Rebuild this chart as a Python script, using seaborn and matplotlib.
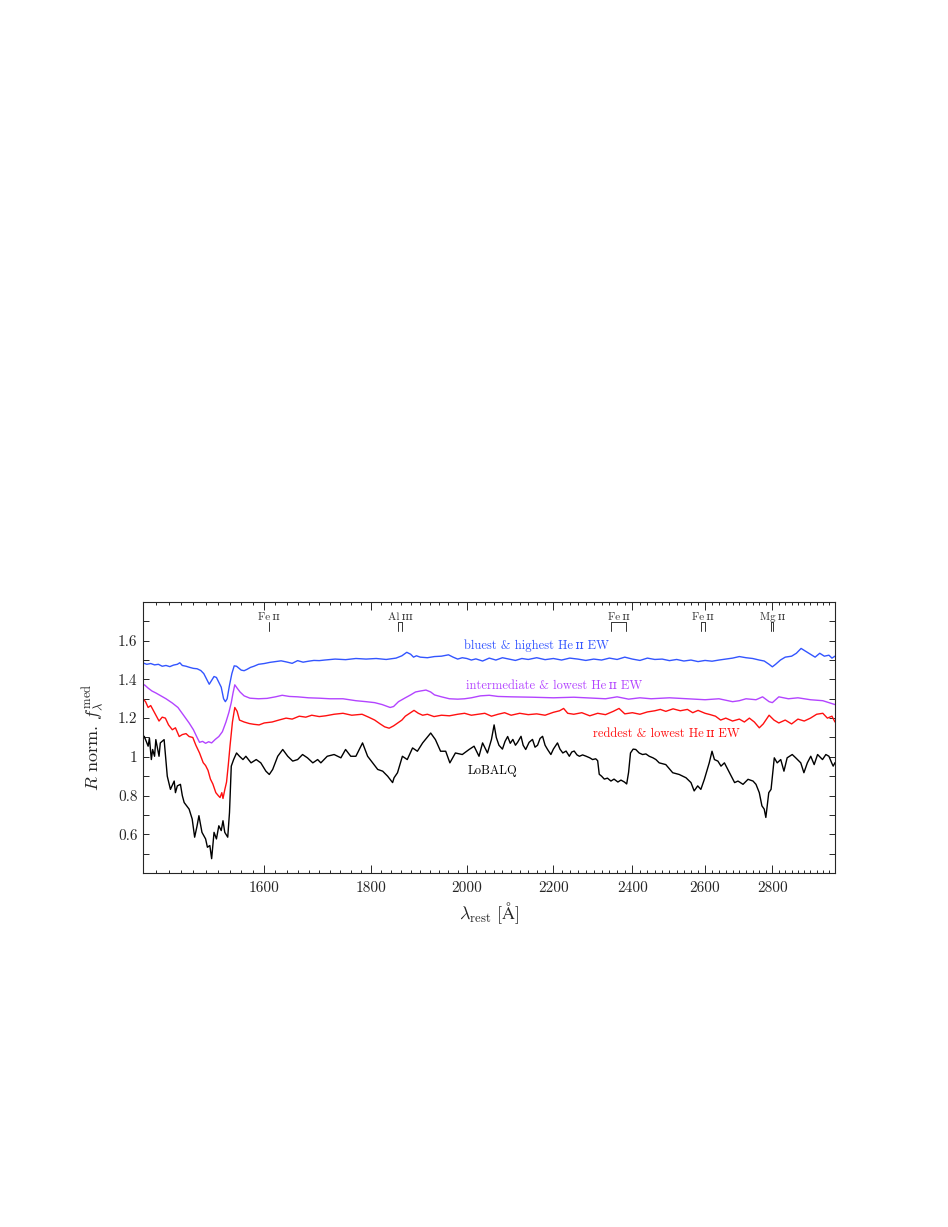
import numpy as np
import matplotlib
matplotlib.use("Agg")
import matplotlib.pyplot as plt
import seaborn as sns
from matplotlib.ticker import FixedLocator, FixedFormatter, NullFormatter

# === Data ===
blue_wave = [1400, 1406, 1412, 1418, 1424, 1430, 1436, 1442, 1448, 1454, 1458, 1462, 1468, 1474,
             1480, 1486, 1492, 1497, 1502, 1506, 1510, 1514, 1518, 1522, 1526, 1530, 1533, 1536,
             1540, 1544, 1548, 1552, 1556, 1560, 1565, 1570, 1576, 1582, 1590, 1600, 1610, 1620,
             1630, 1640, 1650, 1660, 1670, 1680, 1690, 1700, 1710, 1730, 1750, 1770, 1790, 1810,
             1830, 1850, 1862, 1872, 1880, 1886, 1892, 1900, 1915, 1930, 1945, 1960, 1970, 1980,
             1990, 2000, 2010, 2020, 2035, 2050, 2065, 2080, 2095, 2110, 2125, 2140, 2160, 2180,
             2200, 2220, 2240, 2260, 2280, 2300, 2320, 2340, 2360, 2380, 2400, 2420, 2440, 2460,
             2480, 2500, 2520, 2540, 2560, 2580, 2600, 2620, 2640, 2660, 2680, 2700, 2720, 2740,
             2760, 2775, 2790, 2800, 2810, 2825, 2840, 2860, 2875, 2890, 2905, 2920, 2935, 2950,
             2965, 2980, 2990, 3000]
blue_flux = [1.485, 1.478, 1.482, 1.475, 1.478, 1.468, 1.472, 1.466, 1.474, 1.478, 1.486, 1.472,
             1.468, 1.462, 1.457, 1.455, 1.446, 1.43, 1.40, 1.375, 1.395, 1.415, 1.41, 1.385, 1.36,
             1.30, 1.285, 1.30, 1.37, 1.43, 1.47, 1.468, 1.458, 1.448, 1.445, 1.452, 1.462, 1.468,
             1.478, 1.482, 1.488, 1.492, 1.496, 1.49, 1.483, 1.497, 1.489, 1.494, 1.498, 1.497,
             1.50, 1.505, 1.502, 1.508, 1.505, 1.508, 1.503, 1.51, 1.522, 1.54, 1.53, 1.515, 1.522,
             1.515, 1.512, 1.518, 1.52, 1.527, 1.515, 1.505, 1.512, 1.508, 1.50, 1.506, 1.495,
             1.51, 1.50, 1.512, 1.505, 1.498, 1.508, 1.503, 1.512, 1.502, 1.508, 1.50, 1.51, 1.505,
             1.498, 1.505, 1.50, 1.51, 1.503, 1.515, 1.505, 1.498, 1.51, 1.503, 1.505, 1.497,
             1.503, 1.495, 1.50, 1.492, 1.498, 1.494, 1.50, 1.505, 1.51, 1.518, 1.512, 1.508, 1.50,
             1.495, 1.478, 1.465, 1.478, 1.50, 1.515, 1.52, 1.535, 1.56, 1.545, 1.53, 1.515, 1.535,
             1.52, 1.525, 1.51, 1.52]

purple_wave = [1400, 1403, 1408, 1414, 1420, 1428, 1436, 1446, 1455, 1464, 1473, 1480, 1486, 1490,
               1495, 1500, 1505, 1510, 1516, 1522, 1528, 1534, 1539, 1543, 1546, 1549, 1553, 1558,
               1565, 1575, 1590, 1605, 1620, 1632, 1645, 1660, 1680, 1700, 1720, 1745, 1770, 1790,
               1807, 1822, 1838, 1845, 1855, 1869, 1880, 1890, 1900, 1912, 1922, 1930, 1945, 1962,
               1980, 1995, 2010, 2030, 2050, 2070, 2100, 2150, 2200, 2250, 2300, 2330, 2360, 2390,
               2420, 2450, 2500, 2550, 2600, 2640, 2680, 2700, 2720, 2750, 2770, 2790, 2800, 2820,
               2850, 2880, 2920, 2960, 3000]
purple_flux = [1.375, 1.37, 1.355, 1.34, 1.33, 1.315, 1.30, 1.278, 1.255, 1.215, 1.175, 1.14, 1.10,
               1.075, 1.08, 1.07, 1.078, 1.072, 1.09, 1.105, 1.13, 1.18, 1.23, 1.28, 1.33, 1.372,
               1.355, 1.335, 1.315, 1.303, 1.30, 1.302, 1.31, 1.318, 1.312, 1.31, 1.305, 1.303, 1.30,
               1.30, 1.29, 1.285, 1.28, 1.27, 1.255, 1.26, 1.285, 1.305, 1.32, 1.335, 1.34, 1.345,
               1.335, 1.32, 1.31, 1.30, 1.298, 1.30, 1.305, 1.315, 1.318, 1.312, 1.31, 1.308, 1.305,
               1.308, 1.303, 1.30, 1.31, 1.298, 1.305, 1.30, 1.305, 1.30, 1.295, 1.30, 1.285, 1.29,
               1.30, 1.295, 1.31, 1.285, 1.28, 1.31, 1.30, 1.305, 1.295, 1.29, 1.27]

red_wave = [1400, 1404, 1408, 1412, 1416, 1420, 1425, 1430, 1435, 1440, 1446, 1451, 1457, 1462,
            1468, 1473, 1479, 1484, 1490, 1496, 1500, 1504, 1508, 1512, 1517, 1521, 1524, 1527,
            1529, 1532, 1535, 1538, 1541, 1545, 1549, 1553, 1557, 1565, 1574, 1582, 1591, 1600,
            1614, 1626, 1639, 1650, 1663, 1675, 1686, 1700, 1712, 1728, 1745, 1762, 1782, 1795,
            1807, 1818, 1827, 1836, 1845, 1853, 1862, 1869, 1878, 1887, 1896, 1905, 1915, 1929,
            1945, 1962, 1980, 1995, 2010, 2025, 2040, 2055, 2070, 2085, 2100, 2120, 2140, 2160,
            2180, 2200, 2215, 2225, 2235, 2250, 2270, 2290, 2310, 2330, 2350, 2365, 2380, 2400,
            2420, 2440, 2460, 2475, 2490, 2510, 2530, 2550, 2565, 2580, 2600, 2615, 2630, 2645,
            2660, 2680, 2700, 2715, 2730, 2745, 2760, 2772, 2790, 2805, 2820, 2840, 2860, 2880,
            2900, 2920, 2940, 2960, 2975, 2990, 3000]
red_flux = [1.30, 1.285, 1.255, 1.265, 1.24, 1.215, 1.185, 1.205, 1.20, 1.165, 1.14, 1.15, 1.105,
            1.115, 1.12, 1.105, 1.10, 1.06, 1.02, 0.97, 0.955, 0.93, 0.885, 0.86, 0.815, 0.80,
            0.79, 0.815, 0.785, 0.83, 0.87, 0.96, 1.06, 1.18, 1.255, 1.235, 1.19, 1.18, 1.172,
            1.168, 1.165, 1.175, 1.18, 1.19, 1.20, 1.195, 1.21, 1.205, 1.215, 1.208, 1.212, 1.22,
            1.225, 1.215, 1.22, 1.205, 1.19, 1.17, 1.155, 1.148, 1.16, 1.174, 1.19, 1.21, 1.225,
            1.24, 1.225, 1.215, 1.22, 1.208, 1.215, 1.212, 1.22, 1.225, 1.215, 1.22, 1.225, 1.21,
            1.22, 1.228, 1.215, 1.225, 1.218, 1.222, 1.215, 1.23, 1.238, 1.25, 1.225, 1.22, 1.228,
            1.212, 1.225, 1.218, 1.235, 1.25, 1.222, 1.228, 1.22, 1.232, 1.238, 1.245, 1.235,
            1.248, 1.238, 1.245, 1.228, 1.24, 1.225, 1.218, 1.21, 1.19, 1.20, 1.185, 1.195, 1.18,
            1.20, 1.18, 1.15, 1.17, 1.215, 1.19, 1.175, 1.19, 1.17, 1.195, 1.185, 1.20, 1.22,
            1.225, 1.20, 1.21, 1.18]

black_wave = [1400, 1402, 1405, 1408, 1410, 1413, 1415, 1418, 1420, 1425, 1427, 1433, 1435, 1438,
              1443, 1449, 1451, 1454, 1459, 1462, 1465, 1473, 1478, 1482, 1486, 1489, 1494, 1500,
              1503, 1507, 1510, 1514, 1518, 1522, 1526, 1529, 1532, 1537, 1540, 1543, 1547, 1552,
              1557, 1563, 1568, 1577, 1586, 1594, 1603, 1609, 1615, 1624, 1633, 1642, 1651, 1660,
              1669, 1678, 1688, 1697, 1703, 1715, 1728, 1741, 1750, 1760, 1770, 1783, 1793, 1803,
              1813, 1823, 1833, 1843, 1846, 1853, 1863, 1873, 1884, 1894, 1905, 1922, 1932, 1943,
              1954, 1963, 1975, 1990, 2005, 2016, 2027, 2035, 2046, 2055, 2061, 2066, 2072, 2080,
              2086, 2092, 2098, 2104, 2110, 2115, 2123, 2128, 2134, 2142, 2150, 2156, 2162, 2168,
              2174, 2180, 2186, 2194, 2200, 2210, 2216, 2223, 2231, 2239, 2245, 2251, 2258, 2264,
              2272, 2281, 2290, 2297, 2305, 2310, 2314, 2320, 2327, 2335, 2344, 2352, 2362, 2370,
              2379, 2385, 2390, 2395, 2402, 2409, 2418, 2427, 2436, 2445, 2455, 2463, 2472, 2490,
              2509, 2527, 2546, 2560, 2569, 2579, 2588, 2598, 2612, 2620, 2627, 2637, 2646, 2656,
              2671, 2686, 2696, 2711, 2726, 2741, 2750, 2760, 2768, 2775, 2780, 2789, 2796, 2806,
              2815, 2826, 2836, 2846, 2862, 2873, 2889, 2899, 2910, 2921, 2932, 2943, 2959, 2970,
              2980, 2989, 2994, 3000]
black_flux = [1.09, 1.106, 1.08, 1.055, 1.097, 0.986, 1.038, 1.003, 1.089, 1.003, 1.072, 1.089,
              1.012, 0.90, 0.832, 0.875, 0.815, 0.85, 0.858, 0.80, 0.764, 0.73, 0.679, 0.585,
              0.644, 0.696, 0.61, 0.576, 0.533, 0.542, 0.474, 0.61, 0.576, 0.644, 0.619, 0.67,
              0.61, 0.585, 0.713, 0.952, 0.986, 1.02, 1.003, 0.986, 1.003, 0.969, 0.986, 0.969,
              0.926, 0.909, 0.935, 1.003, 1.038, 1.003, 0.978, 0.986, 1.012, 0.995, 0.969, 0.986,
              0.969, 1.003, 1.012, 0.995, 1.038, 1.003, 1.003, 1.072, 1.003, 0.969, 0.935, 0.926,
              0.90, 0.867, 0.892, 0.918, 1.003, 0.986, 1.046, 1.029, 1.072, 1.123, 1.089, 1.029,
              1.029, 0.969, 1.02, 1.012, 1.038, 1.055, 1.003, 1.072, 1.02, 1.09, 1.165, 1.10, 1.06,
              1.04, 1.08, 1.105, 1.07, 1.09, 1.06, 1.075, 1.106, 1.06, 1.038, 1.075, 1.09, 1.05,
              1.06, 1.095, 1.106, 1.06, 1.038, 1.012, 1.04, 1.072, 1.04, 1.02, 1.03, 1.003, 1.025,
              1.03, 1.01, 1.003, 1.01, 1.003, 0.995, 0.986, 0.99, 0.98, 0.91, 0.90, 0.885, 0.89,
              0.875, 0.885, 0.87, 0.88, 0.87, 0.86, 0.92, 1.02, 1.04, 1.038, 1.02, 1.012, 1.015,
              1.003, 0.995, 0.986, 0.969, 0.96, 0.918, 0.909, 0.892, 0.867, 0.824, 0.85, 0.832,
              0.884, 0.969, 1.029, 0.986, 0.978, 0.952, 0.969, 0.918, 0.867, 0.875, 0.858, 0.884,
              0.875, 0.858, 0.815, 0.747, 0.73, 0.687, 0.815, 0.832, 0.995, 0.969, 0.986, 0.926,
              0.995, 1.012, 0.995, 0.969, 0.918, 0.969, 1.003, 0.96, 1.012, 0.986, 1.012, 1.003,
              0.969, 0.952, 0.97]

series_colors = ["#3355ff", "#b344ff", "#ff1010", "black"]
series_labels = ["bluest & highest He\u2009\u026a\u026a EW",
                 "intermediate & lowest He\u2009\u026a\u026a EW",
                 "reddest & lowest He\u2009\u026a\u026a EW", "LoBALQ"]
label_wave = [1994, 1998, 2299, 2001]
label_flux = [1.572, 1.364, 1.118, 0.928]

# top line identifications
line_names = ["Fe\u2009\u026a\u026a", "Al\u2009\u026a\u026a\u026a", "Fe\u2009\u026a\u026a",
              "Fe\u2009\u026a\u026a", "Mg\u2009\u026a\u026a"]
line_lo = [1608, 1855, 2344, 2587, 2796]
line_hi = [1608, 1863, 2383, 2600, 2803]

xticks = [1600, 1800, 2000, 2200, 2400, 2600, 2800]
yticks = [0.6, 0.8, 1.0, 1.2, 1.4, 1.6]
ytick_labels = ["0.6", "0.8", "1", "1.2", "1.4", "1.6"]

# === Style ===
sns.set_style("ticks")
plt.rcParams["font.family"] = ["cmr10", "DejaVu Serif"]
plt.rcParams["mathtext.fontset"] = "cm"
plt.rcParams["axes.formatter.use_mathtext"] = True
plt.rcParams["axes.linewidth"] = 0.8

fig = plt.figure(figsize=(9.48, 12.27), dpi=100)
ax = fig.add_axes([0.1508, 0.2885, 0.73, 0.2209])

waves = [blue_wave, purple_wave, red_wave, black_wave]
fluxes = [blue_flux, purple_flux, red_flux, black_flux]
for w, f, c in zip(waves, fluxes, series_colors):
    sns.lineplot(x=w, y=f, ax=ax, color=c, lw=1.0, estimator=None, sort=False)

for lab, lw_, lf, c in zip(series_labels, label_wave, label_flux, series_colors):
    ax.text(lw_, lf, lab, color=c, fontsize=9, ha="left", va="center")

# line markers
for name, lo, hi in zip(line_names, line_lo, line_hi):
    ax.plot([lo, lo], [1.652, 1.698], color="#333333", lw=0.7)
    if hi != lo:
        ax.plot([hi, hi], [1.652, 1.698], color="#333333", lw=0.7)
        ax.plot([lo, hi], [1.698, 1.698], color="#333333", lw=0.7)
    ax.text(np.sqrt(lo * hi), 1.722, name, fontsize=8, ha="center", va="center", color="#333333")

ax.set_xscale("log")
ax.set_xlim(1400, 3000)
ax.set_ylim(0.4, 1.8)

ax.xaxis.set_major_locator(FixedLocator(xticks))
ax.xaxis.set_major_formatter(FixedFormatter([str(t) for t in xticks]))
ax.xaxis.set_minor_locator(FixedLocator(list(range(1400, 3001, 20))))
ax.xaxis.set_minor_formatter(NullFormatter())
ax.yaxis.set_major_locator(FixedLocator(yticks))
ax.yaxis.set_major_formatter(FixedFormatter(ytick_labels))
ax.yaxis.set_minor_locator(FixedLocator([0.5, 0.7, 0.9, 1.1, 1.3, 1.5, 1.7]))

ax.tick_params(axis="both", which="both", direction="in", top=True, right=True, width=0.7)
ax.tick_params(axis="x", which="major", length=5.5, pad=6, labelsize=11)
ax.tick_params(axis="x", which="minor", length=2.5)
ax.tick_params(axis="y", which="major", length=4, pad=4, labelsize=11)
ax.tick_params(axis="y", which="minor", length=4)

ax.set_xlabel(r"$\lambda_{\rm rest}\ [\mathrm{\AA}]$", fontsize=13)
ax.set_ylabel(r"$R$ norm. $f_\lambda^{\rm med}$", fontsize=13)
ax.xaxis.set_label_coords(0.5, -0.10)
ax.yaxis.set_label_coords(-0.055, 0.5)

plt.savefig("out.png", dpi=100)
